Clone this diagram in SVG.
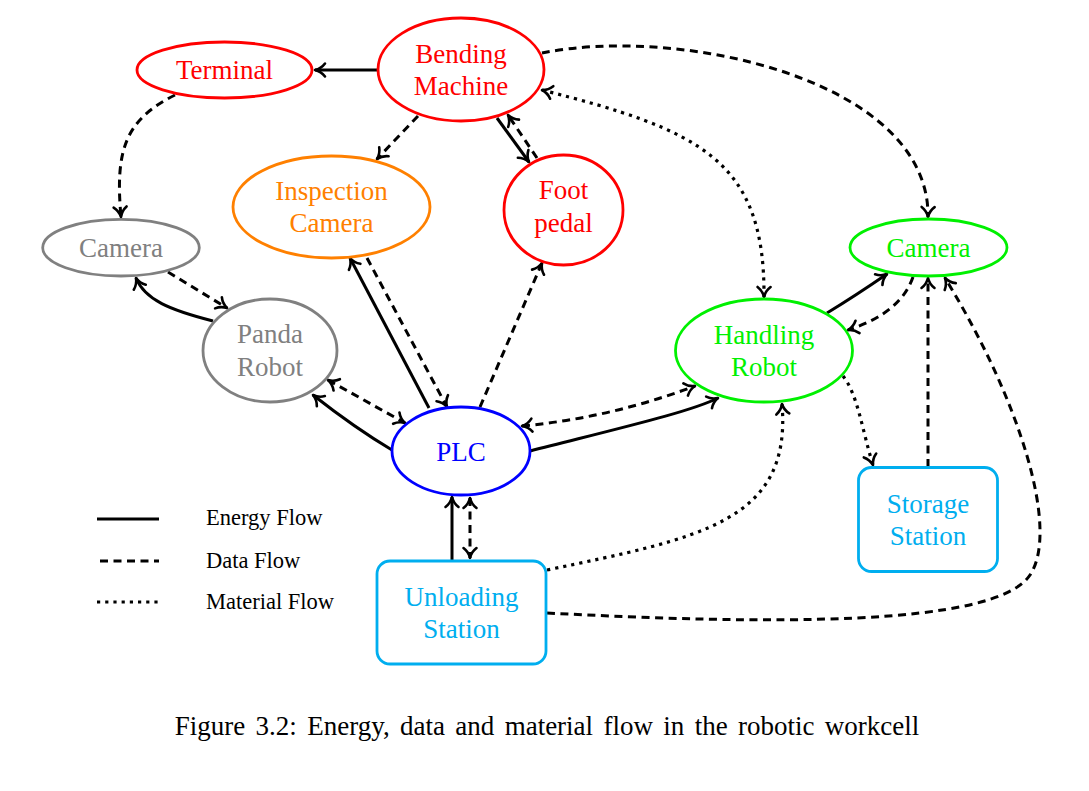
<svg xmlns="http://www.w3.org/2000/svg" width="1089" height="791" viewBox="0 0 1089 791">
<style>
  .node { fill: none; stroke-width: 2.8; }
  .lbl { font-family: "Liberation Serif", "Times New Roman", serif; font-size: 27px; text-anchor: middle; }
  .red { stroke: #ff0000; } .tred { fill: #ff0000; }
  .org { stroke: #ff8000; } .torg { fill: #ff8000; }
  .gry { stroke: #808080; } .tgry { fill: #808080; }
  .blu { stroke: #0000ff; } .tblu { fill: #0000ff; }
  .grn { stroke: #00f000; } .tgrn { fill: #00f000; }
  .cyn { stroke: #00aeef; } .tcyn { fill: #00aeef; }
  .e { fill: none; stroke: #000; stroke-width: 3; }
  .d { fill: none; stroke: #000; stroke-width: 3; stroke-dasharray: 8 5.5; }
  .m { fill: none; stroke: #000; stroke-width: 3.2; stroke-dasharray: 3.2 5; }
  .leg { font-family: "Liberation Serif", "Times New Roman", serif; font-size: 22.5px; fill: #000; }
  .cap { font-family: "Liberation Serif", "Times New Roman", serif; font-size: 27px; fill: #000; text-anchor: middle; word-spacing: 3.6px; }
</style>
<defs>
  <marker id="ar" markerUnits="userSpaceOnUse" viewBox="-14 -9 18 18" markerWidth="18" markerHeight="18" refX="0" refY="0" orient="auto-start-reverse" overflow="visible">
    <path d="M -10,-6.5 C -7,-2.5 -3,-0.7 0,0 C -3,0.7 -7,2.5 -10,6.5" fill="none" stroke="#000" stroke-width="2.6" stroke-linecap="round" stroke-linejoin="round" stroke-dasharray="none"/>
  </marker>
</defs>

<g id="connectors">
  <path class="e" d="M 378,70 L 315,70" marker-end="url(#ar)"/>
  <path class="d" d="M 175,95 C 125,120 115,150 121,217" marker-end="url(#ar)"/>
  <path class="d" d="M 418,116 L 377,159" marker-end="url(#ar)"/>
  <path class="e" d="M 497,118 L 529,162" marker-end="url(#ar)"/>
  <path class="d" d="M 537,158 L 508,115" marker-end="url(#ar)"/>
  <path class="d" d="M 542,53 C 680,25 930,80 928,217" marker-end="url(#ar)"/>
  <path class="m" d="M 542,90 C 700,130 765,160 764,297" marker-start="url(#ar)" marker-end="url(#ar)"/>
  <path class="d" d="M 168,272 L 227,308" marker-end="url(#ar)"/>
  <path class="e" d="M 213,321 C 170,310 145,300 136,278" marker-end="url(#ar)"/>
  <path class="e" d="M 429,408 L 350,258" marker-end="url(#ar)"/>
  <path class="d" d="M 367,258 L 447,407" marker-end="url(#ar)"/>
  <path class="d" d="M 480,407 L 542,263" marker-end="url(#ar)"/>
  <path class="d" d="M 328,380 L 405,423" marker-start="url(#ar)" marker-end="url(#ar)"/>
  <path class="e" d="M 392,450 Q 355,428 313,395" marker-end="url(#ar)"/>
  <path class="e" d="M 530,451 C 620,428 690,412 718,398" marker-end="url(#ar)"/>
  <path class="d" d="M 522,426 Q 610,418 695,386" marker-start="url(#ar)" marker-end="url(#ar)"/>
  <path class="e" d="M 452,561 L 452,497" marker-end="url(#ar)"/>
  <path class="d" d="M 470,498 L 470,558" marker-start="url(#ar)" marker-end="url(#ar)"/>
  <path class="e" d="M 827,313 Q 855,296 887,274" marker-end="url(#ar)"/>
  <path class="d" d="M 913,277 C 905,300 885,318 848,330" marker-end="url(#ar)"/>
  <path class="d" d="M 928,467 L 928,278" marker-end="url(#ar)"/>
  <path class="m" d="M 843,376 C 858,395 862,430 873,465" marker-end="url(#ar)"/>
  <path class="m" d="M 547,570 C 700,538 792,522 782,404" marker-end="url(#ar)"/>
  <path class="d" d="M 547,613 C 760,624 995,628 1030,575 C 1060,530 1020,400 945,278" marker-end="url(#ar)"/>
</g>

<g id="terminal">
  <ellipse class="node red" cx="224.5" cy="70" rx="87.5" ry="28"/>
  <text class="lbl tred" x="224.5" y="79">Terminal</text>
</g>
<g id="bending-machine">
  <ellipse class="node red" cx="461" cy="69.5" rx="83" ry="51.5"/>
  <text class="lbl tred" x="461" y="63">Bending</text>
  <text class="lbl tred" x="461" y="95">Machine</text>
</g>
<g id="inspection-camera">
  <ellipse class="node org" cx="331.5" cy="207" rx="98.5" ry="51"/>
  <text class="lbl torg" x="331.5" y="200">Inspection</text>
  <text class="lbl torg" x="331.5" y="232">Camera</text>
</g>
<g id="foot-pedal">
  <ellipse class="node red" cx="563.5" cy="210" rx="59.5" ry="55"/>
  <text class="lbl tred" x="563.5" y="199">Foot</text>
  <text class="lbl tred" x="563.5" y="231.5">pedal</text>
</g>
<g id="camera-gray">
  <ellipse class="node gry" cx="121" cy="247.7" rx="78.3" ry="28.3"/>
  <text class="lbl tgry" x="121" y="256.5">Camera</text>
</g>
<g id="panda-robot">
  <ellipse class="node gry" cx="270" cy="350.5" rx="67" ry="51.5"/>
  <text class="lbl tgry" x="270" y="343">Panda</text>
  <text class="lbl tgry" x="270" y="376">Robot</text>
</g>
<g id="plc">
  <ellipse class="node blu" cx="461" cy="451" rx="69" ry="44"/>
  <text class="lbl tblu" x="461" y="460.5">PLC</text>
</g>
<g id="handling-robot">
  <ellipse class="node grn" cx="764" cy="350.5" rx="88.5" ry="51.5"/>
  <text class="lbl tgrn" x="764" y="344">Handling</text>
  <text class="lbl tgrn" x="764" y="375.5">Robot</text>
</g>
<g id="camera-green">
  <ellipse class="node grn" cx="928.5" cy="247.5" rx="78.5" ry="28.5"/>
  <text class="lbl tgrn" x="928.5" y="256.5">Camera</text>
</g>
<g id="unloading-station">
  <rect class="node cyn" x="377" y="561" width="169" height="103" rx="13" ry="13"/>
  <text class="lbl tcyn" x="461.5" y="606">Unloading</text>
  <text class="lbl tcyn" x="461.5" y="637.5">Station</text>
</g>
<g id="storage-station">
  <rect class="node cyn" x="858.5" y="467.5" width="139" height="104" rx="13" ry="13"/>
  <text class="lbl tcyn" x="928" y="513">Storage</text>
  <text class="lbl tcyn" x="928" y="544.5">Station</text>
</g>

<g id="legend">
  <path class="e" d="M 97,519 H 159"/>
  <path class="d" d="M 100,561 H 159"/>
  <path class="m" d="M 97,602 H 159"/>
  <text class="leg" x="206" y="525">Energy Flow</text>
  <text class="leg" x="206" y="568">Data Flow</text>
  <text class="leg" x="206" y="608.5">Material Flow</text>
</g>

<text class="cap" x="547" y="735">Figure 3.2: Energy, data and material flow in the robotic workcell</text>
</svg>
